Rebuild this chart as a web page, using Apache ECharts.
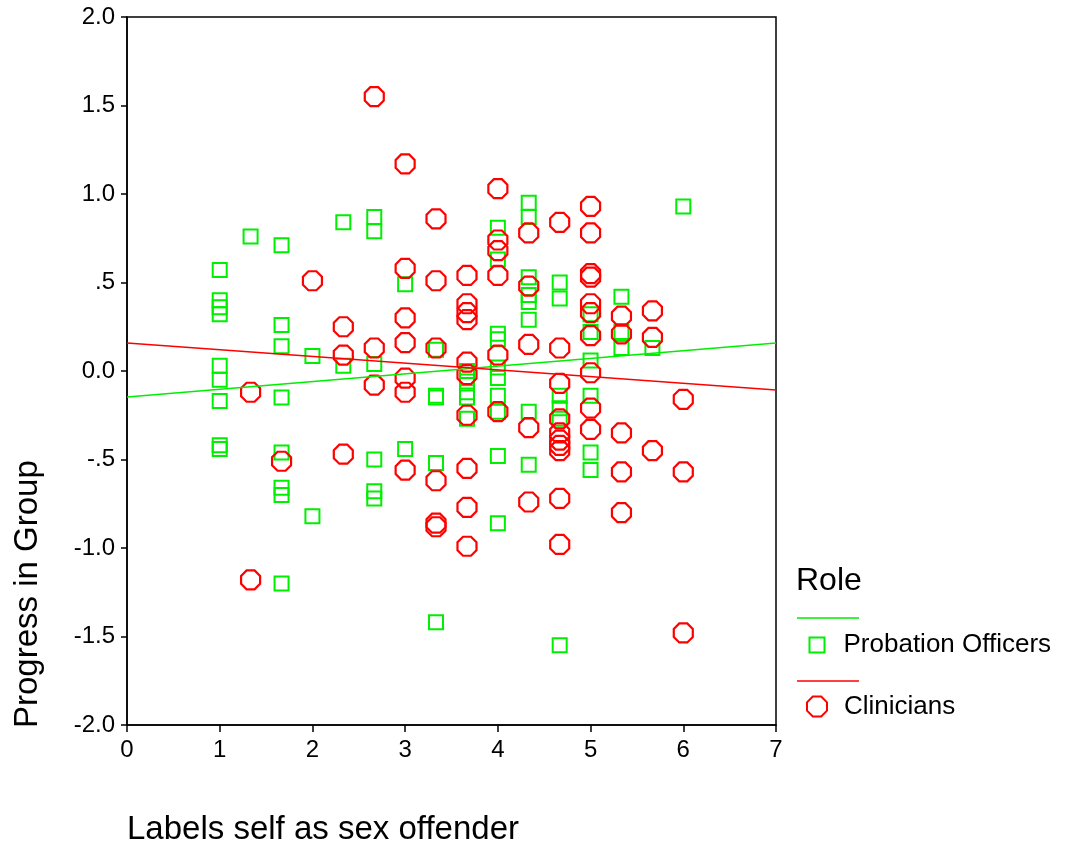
<!DOCTYPE html>
<html>
<head>
<meta charset="utf-8">
<script src="https://cdn.jsdelivr.net/npm/echarts@6/dist/echarts.min.js"></script>
<style>html,body{margin:0;padding:0;background:#fff}#c{width:1065px;height:849px}</style>
</head>
<body>
<div id="c"></div>
<script>
// Data
const yTickLabels = {"2":"2.0","1.5":"1.5","1":"1.0","0.5":".5","0":"0.0","-0.5":"-.5","-1":"-1.0","-1.5":"-1.5","-2":"-2.0"};
const seriesNames = ["Probation Officers", "Clinicians"];
const probationPoints = [
  [1,0.57],[1,0.40],[1,0.36],[1,0.32],[1,0.03],[1,-0.05],[1,-0.17],[1,-0.42],[1,-0.44],
  [1.333,0.76],
  [1.667,0.71],[1.667,0.26],[1.667,0.14],[1.667,-0.15],[1.667,-0.46],[1.667,-0.66],[1.667,-0.70],[1.667,-1.20],
  [2,0.085],[2,-0.82],
  [2.333,0.84],[2.333,0.03],
  [2.667,0.87],[2.667,0.79],[2.667,0.04],[2.667,-0.50],[2.667,-0.68],[2.667,-0.72],
  [3,0.49],[3,-0.44],
  [3.333,0.12],[3.333,-0.14],[3.333,-0.15],[3.333,-0.52],[3.333,-1.42],
  [3.667,0.0],[3.667,-0.06],[3.667,-0.12],[3.667,-0.15],[3.667,-0.27],
  [4,0.81],[4,0.63],[4,0.21],[4,0.18],[4,0.02],[4,-0.04],[4,-0.14],[4,-0.23],[4,-0.48],[4,-0.86],
  [4.333,0.95],[4.333,0.87],[4.333,0.53],[4.333,0.43],[4.333,0.39],[4.333,0.29],[4.333,-0.23],[4.333,-0.53],
  [4.667,0.50],[4.667,0.41],[4.667,-0.14],[4.667,-0.21],[4.667,-0.27],[4.667,-1.55],
  [5,0.32],[5,0.22],[5,0.06],[5,-0.14],[5,-0.46],[5,-0.56],
  [5.333,0.42],[5.333,0.22],[5.333,0.13],
  [5.667,0.13],
  [6,0.93]
];
const clinicianPoints = [
  [1.333,-0.12],[1.333,-1.18],
  [1.667,-0.51],
  [2,0.51],
  [2.333,0.25],[2.333,0.09],[2.333,-0.47],
  [2.667,1.55],[2.667,0.13],[2.667,-0.08],
  [3,1.17],[3,0.58],[3,0.30],[3,0.16],[3,-0.04],[3,-0.12],[3,-0.56],
  [3.333,0.86],[3.333,0.51],[3.333,0.13],[3.333,-0.62],[3.333,-0.86],[3.333,-0.88],
  [3.667,0.54],[3.667,0.38],[3.667,0.33],[3.667,0.29],[3.667,0.05],[3.667,-0.02],[3.667,-0.25],[3.667,-0.55],[3.667,-0.77],[3.667,-0.99],
  [4,1.03],[4,0.74],[4,0.68],[4,0.54],[4,0.09],[4,-0.23],
  [4.333,0.78],[4.333,0.48],[4.333,0.15],[4.333,-0.32],[4.333,-0.74],
  [4.667,0.84],[4.667,0.13],[4.667,-0.07],[4.667,-0.27],[4.667,-0.35],[4.667,-0.39],[4.667,-0.42],[4.667,-0.45],[4.667,-0.72],[4.667,-0.98],
  [5,0.93],[5,0.78],[5,0.55],[5,0.53],[5,0.38],[5,0.33],[5,0.20],[5,-0.01],[5,-0.21],[5,-0.33],
  [5.333,0.31],[5.333,0.21],[5.333,-0.35],[5.333,-0.57],[5.333,-0.80],
  [5.667,0.34],[5.667,0.19],[5.667,-0.45],
  [6,-0.16],[6,-0.57],[6,-1.48]
];
const probationFit = [[0,-0.147],[7,0.158]];
const clinicianFit = [[0,0.158],[7,-0.107]];

const GREEN = '#00ee00', RED = '#ff0000';
const FONT = 'Liberation Sans, Arial, Helvetica, sans-serif';
const octagon = 'path://M29,0 L71,0 L100,29 L100,71 L71,100 L29,100 L0,71 L0,29 Z';

const chart = echarts.init(document.getElementById('c'), null, {renderer: 'canvas'});
const legendText = {fontSize: 26, fontFamily: FONT, color: '#000'};
chart.setOption({
  animation: false,
  backgroundColor: '#fff',
  textStyle: {fontFamily: FONT, color: '#000'},
  grid: {left: 127, top: 17, right: 289, bottom: 124, show: true, borderColor: '#000', borderWidth: 1.5, backgroundColor: 'transparent'},
  xAxis: {
    type: 'value', min: 0, max: 7, interval: 1,
    axisLine: {show: true, onZero: false, lineStyle: {color: '#000', width: 1.5}},
    axisTick: {show: true, inside: false, length: 7, lineStyle: {color: '#000', width: 1.5}},
    axisLabel: {color: '#000', fontSize: 24, fontFamily: FONT, margin: 13},
    splitLine: {show: false}
  },
  yAxis: {
    type: 'value', min: -2, max: 2, interval: 0.5,
    axisLine: {show: true, onZero: false, lineStyle: {color: '#000', width: 1.5}},
    axisTick: {show: true, inside: false, length: 6, lineStyle: {color: '#000', width: 1.5}},
    axisLabel: {color: '#000', fontSize: 24, fontFamily: FONT, margin: 12,
      formatter: v => yTickLabels[String(v)] !== undefined ? yTickLabels[String(v)] : String(v)},
    splitLine: {show: false}
  },
  legend: [
    {
      orient: 'vertical', left: 803.5, top: 627,
      itemWidth: 15, itemHeight: 15,
      data: [seriesNames[0]],
      textStyle: Object.assign({padding: [8, 0, 0, 14]}, legendText)
    },
    {
      orient: 'vertical', left: 801, top: 688.5,
      itemWidth: 20, itemHeight: 20,
      data: [seriesNames[1]],
      textStyle: Object.assign({padding: [10, 0, 0, 12]}, legendText)
    }
  ],
  graphic: [
    {type: 'text', x: 796, y: 565, style: {text: 'Role', font: '32px ' + FONT, fill: '#000'}},
    {type: 'line', shape: {x1: 797, y1: 618, x2: 859, y2: 618}, style: {stroke: GREEN, lineWidth: 1.5}},
    {type: 'line', shape: {x1: 797, y1: 681, x2: 859, y2: 681}, style: {stroke: RED, lineWidth: 1.5}},
    {type: 'text', x: 127, y: 813, style: {text: 'Labels self as sex offender', font: '33px ' + FONT, fill: '#000'}},
    {type: 'text', x: 11, y: 728, rotation: Math.PI / 2, style: {text: 'Progress in Group', font: '33px ' + FONT, fill: '#000'}}
  ],
  series: [
    {
      name: seriesNames[0], type: 'scatter', data: probationPoints,
      symbol: 'rect', symbolSize: 14,
      itemStyle: {color: 'rgba(0,0,0,0)', borderColor: GREEN, borderWidth: 2, opacity: 1},
      z: 3
    },
    {
      name: seriesNames[1], type: 'scatter', data: clinicianPoints,
      symbol: octagon, symbolSize: 19,
      itemStyle: {color: 'rgba(0,0,0,0)', borderColor: RED, borderWidth: 2.2, opacity: 1},
      z: 4
    },
    {
      type: 'line', data: probationFit, showSymbol: false, symbol: 'none',
      lineStyle: {color: GREEN, width: 1.5}, z: 5, silent: true
    },
    {
      type: 'line', data: clinicianFit, showSymbol: false, symbol: 'none',
      lineStyle: {color: RED, width: 1.5}, z: 5, silent: true
    }
  ]
});
</script>
</body>
</html>
